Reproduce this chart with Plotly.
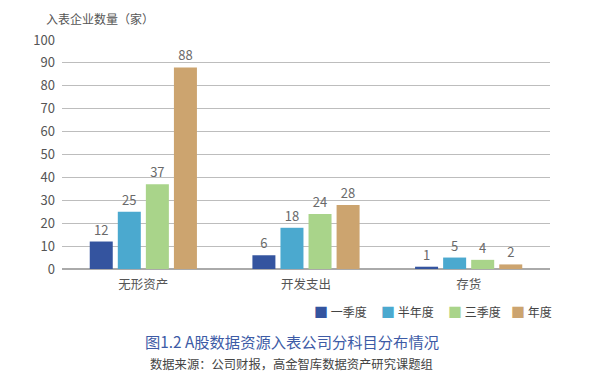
import plotly.graph_objects as go

categories = ["无形资产", "开发支出", "存货"]
series_names = ["一季度", "半年度", "三季度", "年度"]
q1 = [12, 6, 1]
h1 = [25, 18, 5]
q3 = [37, 24, 4]
fy = [88, 28, 2]
colors = ["#34549f", "#4ba9cf", "#a9d48a", "#cca46f"]
y_ticks = [0, 10, 20, 30, 40, 50, 60, 70, 80, 90, 100]

FONT = "Noto Sans CJK SC"
OFF = 8  # page body margin offset
fig = go.Figure()
for name, vals, c in zip(series_names, [q1, h1, q3, fy], colors):
    fig.add_trace(go.Bar(
        name=name, x=categories, y=vals, marker=dict(color=c, line=dict(width=0)),
        text=[str(v) for v in vals], textposition="outside", cliponaxis=False,
        textfont=dict(size=13, color="#6a6a6a", family=FONT),
        outsidetextfont=dict(size=13, color="#6a6a6a", family=FONT),
        showlegend=False,
    ))

W, H = 600 - OFF, 383 - OFF
L, R, T, B = 62 - OFF, 50, 40 - OFF, 114
pw = W - L - R
ph = H - T - B

def px_(x):
    return (x - OFF - L) / pw

def py(y):
    return (H - B - (y - OFF)) / ph

annotations = [
    dict(text="入表企业数量（家）", xref="paper", yref="paper", x=px_(44),
         y=py(19), xanchor="left", yanchor="middle", showarrow=False,
         font=dict(size=12, color="#555555", family=FONT)),
    dict(text="图1.2 A股数据资源入表公司分科目分布情况", xref="paper", yref="paper",
         x=px_(292), y=py(341), xanchor="center", yanchor="middle",
         showarrow=False, font=dict(size=15.3, color="#3d5ba6", family=FONT)),
    dict(text="数据来源：公司财报，高金智库数据资产研究课题组", xref="paper", yref="paper",
         x=px_(291), y=py(364), xanchor="center", yanchor="middle",
         showarrow=False, font=dict(size=12.3, color="#444444", family=FONT)),
]
legend_x = [312, 379, 446, 509]
for name, c, lx in zip(series_names, colors, legend_x):
    annotations.append(dict(
        text=f"<span style='color:{c};font-size:14px'>■</span> {name}",
        xref="paper", yref="paper", x=px_(lx), y=py(311), xanchor="left", yanchor="middle",
        showarrow=False, font=dict(size=12, color="#444444", family=FONT)))

fig.update_layout(
    width=W, height=H,
    margin=dict(l=L, r=R, t=T, b=B, autoexpand=False),
    paper_bgcolor="white", plot_bgcolor="white",
    barmode="group", bargap=0.31, bargroupgap=0.18,
    font=dict(family=FONT, color="#555555"),
    showlegend=False,
    xaxis=dict(showgrid=False, showline=False, ticks="", zeroline=False,
               ticklabelstandoff=6,
               tickfont=dict(size=12.5, color="#555555", family=FONT)),
    yaxis=dict(range=[0, 100], tickvals=y_ticks, showgrid=True, gridcolor="#bdbdbd",
               gridwidth=1, zeroline=True, zerolinecolor="#aaaaaa", zerolinewidth=1.5,
               showline=False, ticks="", ticklabelstandoff=6,
               tickfont=dict(size=13, color="#555555", family=FONT)),
    annotations=annotations,
)

fig.write_html("out.html")
